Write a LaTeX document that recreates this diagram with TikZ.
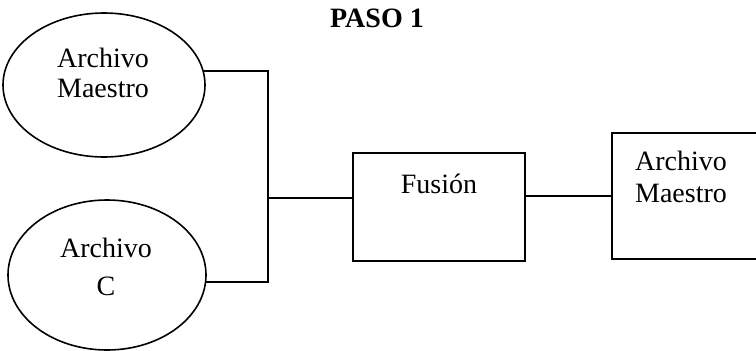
\documentclass[tikz,border=0pt]{standalone}
\usepackage{fontspec}
\setmainfont{Liberation Serif}
\usetikzlibrary{shapes.geometric}
\begin{document}
\begin{tikzpicture}[x=1pt,y=-1pt,
  line width=1.6pt,
  txt/.style={font=\fontsize{28}{31}\selectfont, inner sep=0pt, align=center},
  oval/.style={draw, ellipse, inner sep=0pt},
  box/.style={draw, rectangle, inner sep=0pt}]
\path[use as bounding box] (0,0) rectangle (756,351);
% title
\node[font=\fontsize{28}{32}\bfseries, inner sep=0pt, anchor=base] (title) at (377,27) {PASO 1};
% shapes
\node[oval, minimum width=202, minimum height=144] (e1) at (104,85) {};
\node[oval, minimum width=198, minimum height=150] (e2) at (107,275) {};
\node[box, minimum width=172, minimum height=108] (fus) at (439,207) {};
\node[box, minimum width=160, minimum height=126, anchor=north west] (rr) at (611,132) {};
% texts
\node[txt, anchor=base] (t1) at (103,97) {Archivo\\[-1pt]Maestro};
\node[txt, anchor=base] (t2) at (106,295) {Archivo\\[7pt]C};
\node[txt, anchor=base] (t3) at (439,193) {Fusión};
\node[txt, anchor=base, align=left] (t4) at (681,202) {Archivo\\[1pt]Maestro};
% connectors
\coordinate (j) at (268,198);
\draw (e1.8.6) -- (e1.8.6 -| j) -- (e2.-4.7 -| j) -- (e2.-4.7);
\draw (j) -- (j -| fus.west);
\draw (fus.east |- rr.west) -- (rr.west);
\end{tikzpicture}
\end{document}
